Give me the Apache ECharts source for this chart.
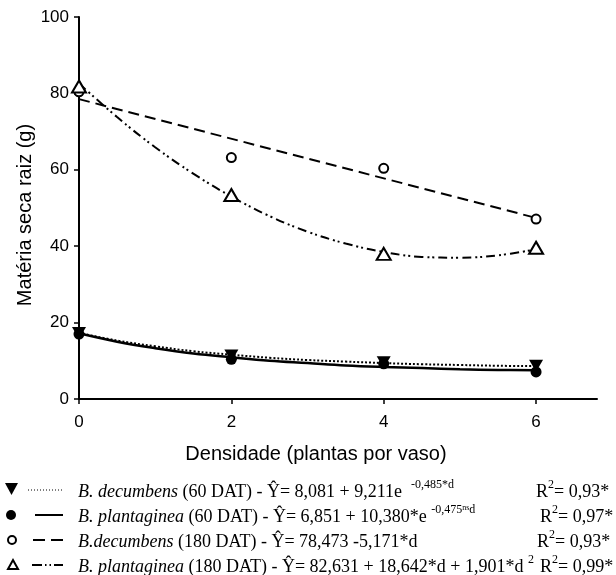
<!DOCTYPE html>
<html>
<head>
<meta charset="utf-8">
<script src="https://cdn.jsdelivr.net/npm/echarts@6/dist/echarts.min.js"></script>
<style>
html, body { margin: 0; padding: 0; background: #fff; }
#chart { width: 616px; height: 575px; }
</style>
</head>
<body>
<div id="chart"></div>
<script>
// observed points
const densities = [0, 2, 4, 6];
const decumbens60 = [17.3, 11.4, 9.6, 8.7];
const plantaginea60 = [17.0, 10.4, 9.2, 7.1];
const decumbens180 = [80.4, 63.2, 60.4, 47.1];
const plantaginea180 = [81.8, 53.4, 38.0, 39.6];

// fitted curves
const curveX = [0, 0.5, 1, 1.5, 2, 2.5, 3, 3.5, 4, 4.5, 5, 5.5, 6];
const decumbens60Fit = [17.3, 15.3, 13.8, 12.5, 11.6, 10.8, 10.2, 9.8, 9.4, 9.1, 8.9, 8.7, 8.6];
const plantaginea60Fit = [17.2, 15.0, 13.3, 11.9, 10.9, 10.0, 9.4, 8.8, 8.4, 8.1, 7.8, 7.6, 7.5];
const lineX = [0, 6];
const decumbens180Fit = [78.5, 47.4];
const plantaginea180Fit = [82.6, 73.8, 65.9, 59.0, 53.0, 47.9, 43.8, 40.7, 38.5, 37.2, 37.0, 37.6, 39.2];

const xTicks = [0, 2, 4, 6];

const pairs = (xs, ys) => xs.map((x, i) => [x, ys[i]]);

const chart = echarts.init(document.getElementById("chart"));

const serif = "Liberation Serif";
const sans = "Liberation Sans";

const rich = {
    i: { fontFamily: serif, fontStyle: "italic", fontSize: 18, lineHeight: 22, verticalAlign: "bottom", fill: "#000" },
    n: { fontFamily: serif, fontSize: 18, lineHeight: 22, verticalAlign: "bottom", fill: "#000" },
    s: { fontFamily: serif, fontSize: 12, lineHeight: 12, verticalAlign: "top", fill: "#000" },
    ss: { fontFamily: serif, fontSize: 8, lineHeight: 9, verticalAlign: "top", fill: "#000" }
};

const rowY = [490, 515, 540, 565];
const r2X = [536, 540, 537, 540];

const legendTexts = [
    "{i|B. decumbens}{n| (60 DAT) - Ŷ= 8,081 + 9,211e  }{s|-0,485*d}",
    "{i|B. plantaginea}{n| (60 DAT) - Ŷ= 6,851 + 10,380*e }{s|-0,475}{ss|ns}{s|d}",
    "{i|B.decumbens}{n| (180 DAT) - Ŷ= 78,473 -5,171*d}",
    "{i|B. plantaginea}{n| (180 DAT) - Ŷ= 82,631 + 18,642*d + 1,901*d }{s|2}"
];
const r2Texts = ["0,93*", "0,97*", "0,93*", "0,99*"];

const graphic = [
    {
        type: "text", x: 316, y: 454,
        style: { text: "Densidade (plantas por vaso)", font: "20px " + sans, fill: "#000", align: "center", verticalAlign: "middle" }
    },
    {
        type: "text", x: 25, y: 215, rotation: Math.PI / 2,
        style: { text: "Matéria seca raiz (g)", font: "20px " + sans, fill: "#000", align: "center", verticalAlign: "middle" }
    }
];

legendTexts.forEach((t, k) => {
    graphic.push({
        type: "text", x: 78, y: rowY[k],
        style: { text: t, rich: rich, verticalAlign: "middle", align: "left" }
    });
    graphic.push({
        type: "text", x: r2X[k], y: rowY[k],
        style: { text: "{n|R}{s|2}{n|= " + r2Texts[k] + "}", rich: rich, verticalAlign: "middle", align: "left" }
    });
});

// legend keys
graphic.push(
    { type: "polygon", shape: { points: [[5, rowY[0] - 7], [18, rowY[0] - 7], [11.5, rowY[0] + 5]] }, style: { fill: "#000" } },
    { type: "line", shape: { x1: 28, y1: rowY[0], x2: 63, y2: rowY[0] }, style: { stroke: "#000", lineWidth: 1, lineDash: [1, 2] } },
    { type: "circle", shape: { cx: 11, cy: rowY[1], r: 5 }, style: { fill: "#000" } },
    { type: "line", shape: { x1: 35, y1: rowY[1], x2: 63, y2: rowY[1] }, style: { stroke: "#000", lineWidth: 2 } },
    { type: "circle", shape: { cx: 12, cy: rowY[2], r: 4 }, style: { fill: "#fff", stroke: "#000", lineWidth: 2 } },
    { type: "line", shape: { x1: 33, y1: rowY[2], x2: 63, y2: rowY[2] }, style: { stroke: "#000", lineWidth: 2, lineDash: [12, 6] } },
    { type: "polygon", shape: { points: [[8, rowY[3] + 4], [18, rowY[3] + 4], [13, rowY[3] - 5]] }, style: { fill: "#fff", stroke: "#000", lineWidth: 2 } },
    { type: "line", shape: { x1: 32, y1: rowY[3], x2: 63, y2: rowY[3] }, style: { stroke: "#000", lineWidth: 2, lineDash: [10, 3, 1.5, 3, 1.5, 3] } }
);

chart.setOption({
    backgroundColor: "#fff",
    animation: false,
    grid: { left: 79, top: 17, right: 19, bottom: 176 },
    xAxis: {
        type: "value",
        min: 0,
        max: 6.8,
        splitLine: { show: false },
        axisLine: { lineStyle: { color: "#000", width: 2 } },
        axisTick: { customValues: xTicks, length: 5, lineStyle: { color: "#000", width: 1.5 } },
        axisLabel: { customValues: xTicks, margin: 15, color: "#000", fontSize: 17, fontFamily: sans }
    },
    yAxis: {
        type: "value",
        min: 0,
        max: 100,
        interval: 20,
        splitLine: { show: false },
        axisLine: { show: true, lineStyle: { color: "#000", width: 2 } },
        axisTick: { show: true, length: 5, lineStyle: { color: "#000", width: 1.5 } },
        axisLabel: { margin: 10, color: "#000", fontSize: 17, fontFamily: sans }
    },
    graphic: graphic,
    series: [
        {
            type: "line", data: pairs(curveX, decumbens60Fit), smooth: 0.4, showSymbol: false,
            lineStyle: { color: "#000", width: 2, type: [2, 2] }
        },
        {
            type: "line", data: pairs(curveX, plantaginea60Fit), smooth: 0.4, showSymbol: false,
            lineStyle: { color: "#000", width: 2.5 }
        },
        {
            type: "line", data: pairs(lineX, decumbens180Fit), showSymbol: false,
            lineStyle: { color: "#000", width: 2, type: [11, 6] }
        },
        {
            type: "line", data: pairs(curveX, plantaginea180Fit), smooth: 0.4, showSymbol: false,
            lineStyle: { color: "#000", width: 2, type: [9, 4, 2, 3, 2, 4] }
        },
        {
            type: "scatter", data: pairs(densities, decumbens60), symbol: "triangle", symbolRotate: 180, symbolSize: [14, 12],
            itemStyle: { color: "#000", opacity: 1 }, z: 5
        },
        {
            type: "scatter", data: pairs(densities, plantaginea60), symbol: "circle", symbolSize: 11,
            itemStyle: { color: "#000", opacity: 1 }, z: 5
        },
        {
            type: "scatter", data: pairs(densities, decumbens180), symbol: "circle", symbolSize: 9,
            itemStyle: { color: "#fff", borderColor: "#000", borderWidth: 2, opacity: 1 }, z: 5
        },
        {
            type: "scatter", data: pairs(densities, plantaginea180), symbol: "triangle", symbolSize: [14, 12],
            itemStyle: { color: "#fff", borderColor: "#000", borderWidth: 2, opacity: 1 }, z: 5
        }
    ]
});

window.addEventListener("resize", () => chart.resize());
</script>
</body>
</html>
